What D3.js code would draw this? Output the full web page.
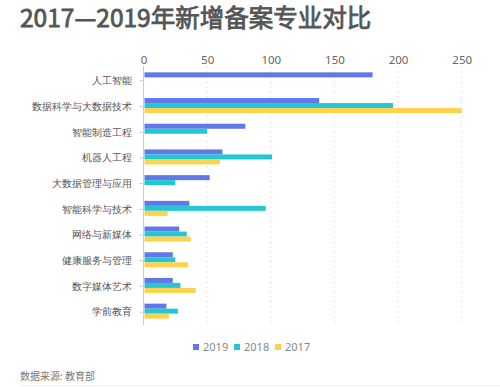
<!DOCTYPE html>
<html>
<head>
<meta charset="utf-8">
<script src="https://cdnjs.cloudflare.com/ajax/libs/d3/7.6.1/d3.min.js"></script>
<style>
  body { margin: 0; background: #fff; }
  svg { font-family: "Noto Sans CJK SC", "Noto Sans", sans-serif; }
</style>
</head>
<body>
<div id="chart"></div>
<script>
var categories = ["人工智能","数据科学与大数据技术","智能制造工程","机器人工程","大数据管理与应用","智能科学与技术","网络与新媒体","健康服务与管理","数字媒体艺术","学前教育"]
var years = ["2019","2018","2017"]
var values2019 = [180, 138, 80, 62, 52, 36, 28, 23, 23, 18]
var values2018 = [0, 196, 50, 101, 25, 96, 34, 25, 29, 27]
var values2017 = [0, 250, 0, 60, 0, 19, 37, 35, 41, 20]
var xTicks = [0, 50, 100, 150, 200, 250]
var colors = ["#6078ea", "#22c7d2", "#fdd24e"]

var width = 500, height = 387
var margin = {top: 68, right: 30, bottom: 62, left: 143.5}

var svg = d3.select("#chart").append("svg")
    .attr("width", width)
    .attr("height", height)

// title
svg.append("text")
    .attr("x", 20).attr("y", 27)
    .attr("font-size", 24.5)
    .attr("font-weight", "normal")
    .attr("fill", "#555")
    .attr("stroke", "#555")
    .attr("stroke-width", 0.8)
    .text("2017—2019年新增备案专业对比")

var series = [values2019, values2018, values2017]

var x = d3.scaleLinear()
    .domain([0, 250])
    .range([margin.left, 461.7])

var y = d3.scaleBand()
    .domain(categories)
    .range([margin.top, height - margin.bottom])

var inner = d3.scaleBand()
    .domain(years)
    .range([0, 15])

// gridlines
svg.append("g")
    .selectAll("line")
    .data(xTicks.slice(1))
    .join("line")
    .attr("x1", d => x(d)).attr("x2", d => x(d))
    .attr("y1", margin.top - 2).attr("y2", height - margin.bottom)
    .attr("stroke", "#e6e6e6")
    .attr("stroke-dasharray", "2,3")

// top axis
var xAxis = svg.append("g")
    .attr("transform", `translate(0,${margin.top - 4})`)
    .call(d3.axisTop(x).tickValues(xTicks).tickSize(0).tickPadding(0))
xAxis.select(".domain").remove()
xAxis.selectAll("text")
    .attr("font-size", 11.5)
    .attr("fill", "#666")
    .attr("font-family", "Noto Sans, sans-serif")

// left axis
var yAxis = svg.append("g")
    .attr("transform", `translate(${margin.left},0)`)
    .call(d3.axisLeft(y).tickSize(4).tickPadding(8))
yAxis.select(".domain")
    .attr("stroke", "#ccc")
    .attr("d", `M0,${margin.top - 2}V${height - margin.bottom}`)
yAxis.selectAll(".tick line").attr("stroke", "#ccc")
yAxis.selectAll("text")
    .attr("font-size", 10.3)
    .attr("fill", "#555")

// bars
series.forEach((vals, s) => {
    svg.append("g")
        .selectAll("rect")
        .data(vals.map((v, i) => ({cat: categories[i], v: v})).filter(d => d.v > 0))
        .join("rect")
        .attr("x", x(0) + 1)
        .attr("y", d => y(d.cat) + (y.bandwidth() - 15) / 2 - 1 + inner(years[s]))
        .attr("width", d => x(d.v) - x(0) - 1)
        .attr("height", inner.bandwidth())
        .attr("fill", colors[s])
})

// legend
var legend = svg.append("g")
    .attr("transform", "translate(193,347)")
var itemX = [0, 41, 82]
years.forEach((yr, i) => {
    var g = legend.append("g").attr("transform", `translate(${itemX[i]},0)`)
    g.append("rect")
        .attr("x", 0).attr("y", -3)
        .attr("width", 6).attr("height", 6)
        .attr("fill", colors[i])
    g.append("text")
        .attr("x", 10).attr("y", 4)
        .attr("font-size", 11)
        .attr("fill", "#888")
        .attr("font-family", "Noto Sans, sans-serif")
        .text(yr)
})

// source
svg.append("text")
    .attr("x", 20).attr("y", 380)
    .attr("font-size", 10)
    .attr("fill", "#777")
    .text("数据来源: 教育部")

svg.append("line")
    .attr("x1", 20).attr("x2", 500)
    .attr("y1", 385.5).attr("y2", 385.5)
    .attr("stroke", "#eee")
</script>
</body>
</html>
